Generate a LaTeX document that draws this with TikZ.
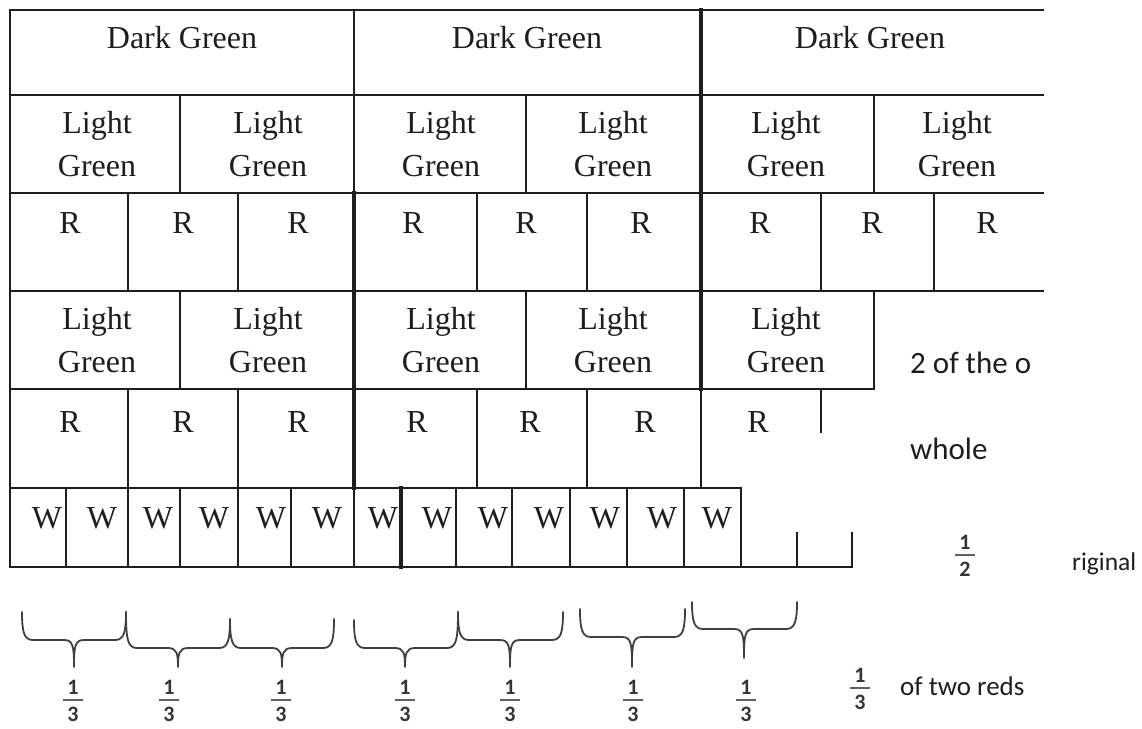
\documentclass[tikz,border=0pt]{standalone}
\usepackage{fontspec}
\setmainfont{Liberation Serif}
\newfontfamily\calib{Carlito}
\definecolor{ink}{HTML}{1E1E1E}
\tikzset{
  grid/.style={draw=ink, line width=1.6pt, line cap=rect},
  heavy/.style={draw=ink, line width=3.2pt, line cap=rect},
  bracestyle/.style={draw=ink!85, line width=1.8pt, line cap=round, line join=round},
  tm/.style={font=\fontsize{32}{43}\selectfont, text=ink, inner sep=0pt, anchor=base},
  lgtxt/.style={font=\fontsize{32}{43}\selectfont, text=ink, inner sep=0pt, align=center, anchor=center},
  cal/.style={font=\calib\fontsize{27}{30}\selectfont, text=ink, inner sep=0pt, anchor=base west},
  fr/.style={font=\calib\bfseries\fontsize{22}{24}\selectfont, text=ink!90, inner sep=0pt, anchor=center},
}
\newcommand{\mybrace}[7]{%
  \draw[bracestyle] (#1,#3) .. controls (#1,#5-8) and (#1+2,#5) .. (#1+11,#5) -- (#6-10,#5)
    .. controls (#6-1,#5) and (#6,#5+6) .. (#6,#7)
    .. controls (#6,#5+6) and (#6+1,#5) .. (#6+10,#5) -- (#2-11,#5)
    .. controls (#2-2,#5) and (#2,#5-8) .. (#2,#4);}
\newcommand{\myfrac}[4]{%
  \node[fr] (#1n) at (#2,#3-13) {1};
  \node[fr] (#1d) at (#2,#3+14) {#4};
  \draw[draw=ink!70, line width=2pt] (#2-10,#3) -- (#2+10,#3);}
\begin{document}
\begin{tikzpicture}[x=1pt,y=-1pt]
\fill[white] (0,0) rectangle (1142,728);
\useasboundingbox (0,0) rectangle (1142,728);
% horizontal lines
\draw[grid] (10,10) -- (1043,10);
\draw[grid] (10,95) -- (1043,95);
\draw[grid] (10,193) -- (1043,193);
\draw[grid] (10,291) -- (1043,291);
\draw[grid] (10,389) -- (874,389);
\draw[grid] (10,488) -- (741,488);
\draw[grid] (10,567) -- (852,567);
% vertical lines
\draw[grid] (10,10) -- (10,567);
\draw[grid] (354,10) -- (354,193) (354,488) -- (354,567);
\draw[heavy] (354,193) -- (354,488);
\draw[heavy] (701,10) -- (701,389);
\draw[grid] (701,389) -- (701,488);
\foreach \x in {180,526,874} {\draw[grid] (\x,95) -- (\x,193) (\x,291) -- (\x,389);}
\foreach \x in {128,238} {\draw[grid] (\x,193) -- (\x,291) (\x,389) -- (\x,567);}
\foreach \x in {477,587} {\draw[grid] (\x,193) -- (\x,291) (\x,389) -- (\x,488);}
\draw[grid] (821,193) -- (821,291) (821,389) -- (821,432);
\draw[grid] (934,193) -- (934,291);
\foreach \x in {66,180,291,456,512,570,627,684,741} {\draw[grid] (\x,488) -- (\x,567);}
\draw[heavy] (401,488) -- (401,567);
\draw[grid] (797,533) -- (797,567) (852,533) -- (852,567);
% Dark green
\node[tm] (dg1) at (182,48) {Dark Green};
\node[tm] (dg2) at (527,48) {Dark Green};
\node[tm] (dg3) at (870,48) {Dark Green};
% Light green row 1
\foreach \x [count=\i] in {97,268,441,613,786,957} {\node[lgtxt] (lga\i) at (\x,144) {Light\\Green};}
% Light green row 2
\foreach \x [count=\i] in {97,268,441,613,786} {\node[lgtxt] (lgb\i) at (\x,340) {Light\\Green};}
% R row 1
\foreach \x [count=\i] in {70,183,298,413,526,641,760,872,987} {\node[tm] (ra\i) at (\x,233) {R};}
% R row 2
\foreach \x [count=\i] in {70,183,298,417,530,645,758} {\node[tm] (rb\i) at (\x,432) {R};}
% W row
\foreach \x [count=\i] in {47,102,158,214,271,327,383,437,493,549,605,662,717} {\node[tm] (w\i) at (\x,528) {W};}
% right side labels
\node[cal, font=\calib\fontsize{31}{34}\selectfont] (lab1) at (910,373) {2 of the o};
\node[cal, font=\calib\fontsize{31}{34}\selectfont] (lab2) at (910,459) {whole};
\node[cal, font=\calib\fontsize{25.5}{28}\selectfont] (lab3) at (1072,570) {riginal};
\node[cal] (lab4) at (900,695) {of two reds};
% braces
\mybrace{22}{126}{612}{612}{640}{74}{667}
\mybrace{126}{230}{612}{619}{648}{178}{667}
\mybrace{230}{334}{619}{619}{648}{282}{667}
\mybrace{354}{458}{620}{612}{648}{405}{667}
\mybrace{458}{563}{612}{612}{640}{510}{667}
\mybrace{580}{685}{609}{609}{637}{632}{667}
\mybrace{692}{797}{602}{602}{629}{744}{658}
% fractions
\myfrac{f1}{73}{700}{3}
\myfrac{f2}{169}{700}{3}
\myfrac{f3}{281}{700}{3}
\myfrac{f4}{405}{700}{3}
\myfrac{f5}{510}{700}{3}
\myfrac{f6}{633}{700}{3}
\myfrac{f7}{746}{700}{3}
\myfrac{fh}{965}{555}{2}
\myfrac{ft}{860}{688}{3}
\end{tikzpicture}
\end{document}
